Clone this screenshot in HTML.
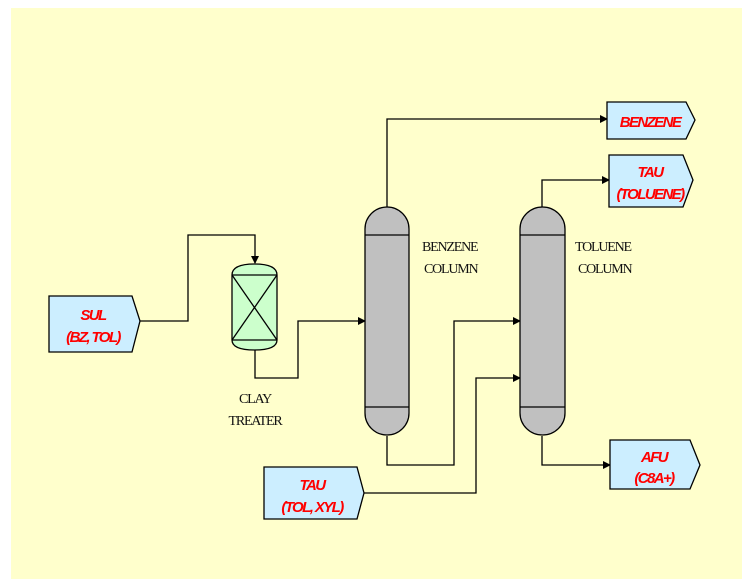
<!DOCTYPE html>
<html><head><meta charset="utf-8"><style>
html,body{margin:0;padding:0;background:#fff;}
svg{display:block;}
.r{font-family:"Liberation Sans",sans-serif;font-style:italic;font-weight:bold;fill:#ff0000;font-size:15px;text-anchor:middle;letter-spacing:-1.6px;}
.s{font-family:"Liberation Serif",serif;fill:#111;font-size:14px;letter-spacing:-1.2px;}
</style></head><body>
<svg width="750" height="586" viewBox="0 0 750 586" xmlns="http://www.w3.org/2000/svg">
<defs><marker id="a" markerWidth="8" markerHeight="8" refX="7" refY="4" orient="auto" markerUnits="userSpaceOnUse"><path d="M0,0 L8,4 L0,8 z" fill="#000"/></marker></defs>
<rect x="11" y="8" width="731" height="571" fill="#ffffcc"/>
<g fill="none" stroke="#000" stroke-width="1.3">
<polyline points="140,321 188,321 188,235 255,235 255,263" marker-end="url(#a)"/>
<polyline points="255,350 255,378 298,378 298,321 365,321" marker-end="url(#a)"/>
<polyline points="387,207 387,119 607,119" marker-end="url(#a)"/>
<polyline points="387,436 387,465 454,465 454,321 520,321" marker-end="url(#a)"/>
<polyline points="542,207 542,180 609,180" marker-end="url(#a)"/>
<polyline points="364,493 476,493 476,378 520,378" marker-end="url(#a)"/>
<polyline points="542,436 542,465 610,465" marker-end="url(#a)"/>
</g>
<g stroke="#000" stroke-width="1.3">
<path d="M232,275 Q232,264 254.5,264 Q277,264 277,275 L277,340 Q277,350 254.5,350 Q232,350 232,340 Z" fill="#ccffcc"/>
<line x1="232" y1="275" x2="277" y2="275"/><line x1="232" y1="340" x2="277" y2="340"/>
<line x1="232" y1="275" x2="277" y2="340"/><line x1="277" y1="275" x2="232" y2="340"/>
<path d="M365,235 L365,229 A22,22 0 0 1 409,229 L409,413 A22,22 0 0 1 365,413 Z" fill="#c0c0c0"/>
<line x1="365" y1="235" x2="409" y2="235"/><line x1="365" y1="407" x2="409" y2="407"/>
<path d="M520,235 L520,229 A22.5,22 0 0 1 565,229 L565,413 A22.5,22 0 0 1 520,413 Z" fill="#c0c0c0"/>
<line x1="520" y1="235" x2="565" y2="235"/><line x1="520" y1="407" x2="565" y2="407"/>
<g fill="#cceeff">
<polygon points="49,296 132,296 140,321 132,352 49,352"/>
<polygon points="264,467 357,467 364,493 357,519 264,519"/>
<polygon points="607,102 686,102 695,120 686,139 607,139"/>
<polygon points="609,155 683,155 693,180 683,207 609,207"/>
<polygon points="610,440 690,440 700,465 690,489 610,489"/>
</g>
</g>
<text class="r" x="93" y="320">SUL</text><text class="r" x="93" y="342">(BZ, TOL)</text>
<text class="r" x="312" y="490">TAU</text><text class="r" x="312" y="512">(TOL, XYL)</text>
<text class="r" x="650" y="127">BENZENE</text>
<text class="r" x="650" y="177">TAU</text><text class="r" x="650" y="199">(TOLUENE)</text>
<text class="r" x="654" y="462">AFU</text><text class="r" x="654" y="483">(C8A+)</text>
<text class="s" x="422" y="251">BENZENE</text><text class="s" x="424" y="273">COLUMN</text>
<text class="s" x="575" y="251">TOLUENE</text><text class="s" x="578" y="273">COLUMN</text>
<text class="s" x="255" y="403" text-anchor="middle">CLAY</text><text class="s" x="255" y="425" text-anchor="middle">TREATER</text>
</svg>
</body></html>
